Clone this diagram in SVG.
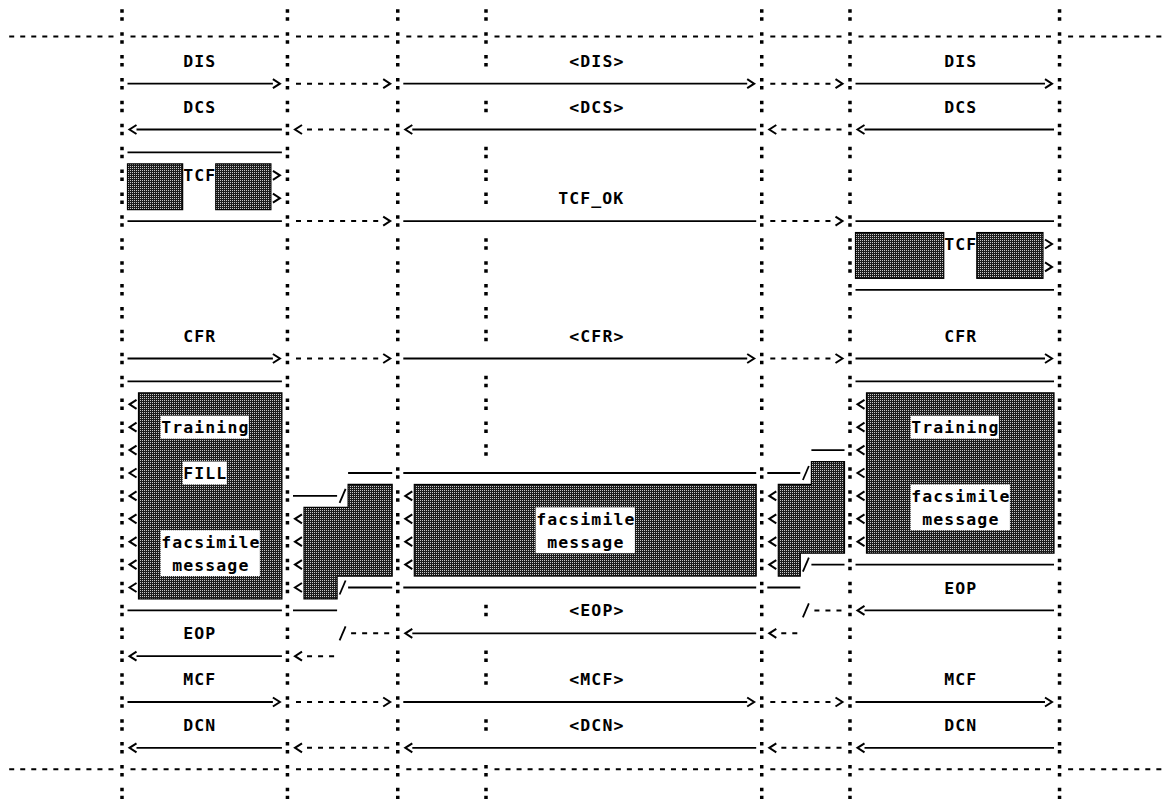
<svg xmlns="http://www.w3.org/2000/svg" xmlns:xlink="http://www.w3.org/1999/xlink" width="1164" height="799" viewBox="0 0 1164 799">
<style>
.ll{stroke:#000;stroke-width:3.5;stroke-dasharray:3.5 4.5 3.5 11.4;fill:none}
.s{stroke:#000;stroke-width:1.8;fill:none}
.d{stroke:#000;stroke-width:2;fill:none;stroke-dasharray:5 6.03}
.ar{marker-end:url(#ah)}
.sl{stroke:#000;stroke-width:1.8;fill:none}
.ch{stroke:#000;stroke-width:2;fill:none}
.box{fill:url(#ht);stroke:#000;stroke-width:1.2}
.wb{fill:#fff;stroke:none}
text{font-family:"DejaVu Sans Mono","Liberation Mono",monospace;font-size:16.5px;font-weight:bold;letter-spacing:1.1px;fill:#000}
</style>
<defs>
<pattern id="ht" width="2" height="2" patternUnits="userSpaceOnUse"><rect width="2" height="2" fill="#1c1c1c"/><rect width="1" height="1" fill="#c8c8c8"/></pattern>
<marker id="ah" viewBox="0 0 7 9" refX="0" refY="4.5" markerWidth="7" markerHeight="9" markerUnits="userSpaceOnUse" orient="auto" overflow="visible"><path d="M0,0 L7,4.5 L0,9" fill="none" stroke="#000" stroke-width="2" stroke-dasharray="none"/></marker>
<path id="cl" class="ch" d="M3.5,-4.5 L-3.5,0 L3.5,4.5"/>
<path id="cr" class="ch" d="M-3.5,-4.5 L3.5,0 L-3.5,4.5"/>
</defs>
<rect width="1164" height="799" fill="#fff"/>

<g id="lifelines">
<line class="ll" x1="122" y1="9.25" x2="122" y2="799.35"/>
<line class="ll" x1="287.45" y1="9.25" x2="287.45" y2="799.35"/>
<line class="ll" x1="397.75" y1="9.25" x2="397.75" y2="799.35"/>
<line class="ll" x1="761.74" y1="9.25" x2="761.74" y2="799.35"/>
<line class="ll" x1="849.98" y1="9.25" x2="849.98" y2="799.35"/>
<line class="ll" x1="1059.55" y1="9.25" x2="1059.55" y2="799.35"/>
<line class="ll" x1="485.99" y1="9.25" x2="485.99" y2="66.55"/>
<line class="ll" x1="485.99" y1="100.85" x2="485.99" y2="112.35"/>
<line class="ll" x1="485.99" y1="146.65" x2="485.99" y2="203.95"/>
<line class="ll" x1="485.99" y1="238.25" x2="485.99" y2="341.35"/>
<line class="ll" x1="485.99" y1="375.65" x2="485.99" y2="455.85"/>
<line class="ll" x1="485.99" y1="604.65" x2="485.99" y2="616.15"/>
<line class="ll" x1="485.99" y1="650.45" x2="485.99" y2="684.85"/>
<line class="ll" x1="485.99" y1="719.15" x2="485.99" y2="730.65"/>
<line class="ll" x1="485.99" y1="764.95" x2="485.99" y2="799.35"/>
</g>

<g id="frame-lines">
<path class="d" d="M9.2 36.4H113.5M130.5 36.4H278.9M296 36.4H389.2M406.3 36.4H477.5M494.5 36.4H753.2M770.3 36.4H841.5M858.5 36.4H1051M1068.1 36.4H1172.4"/>
<path class="d" d="M9.2 769.2H113.5M130.5 769.2H278.9M296 769.2H389.2M406.3 769.2H477.5M494.5 769.2H753.2M770.3 769.2H841.5M858.5 769.2H1051M1068.1 769.2H1172.4"/>
</g>

<g id="tcf-left">
<rect class="box" x="127.5" y="163.85" width="55.15" height="45.8"/>
<rect class="box" x="215.76" y="163.85" width="55.15" height="45.8"/>
<text x="183.2" y="181.3">TCF</text>
<use xlink:href="#cr" x="276.42" y="175.3"/>
<use xlink:href="#cr" x="276.42" y="198.2"/>
</g>

<g id="tcf-right">
<rect class="box" x="855.5" y="232.55" width="88.24" height="45.8"/>
<rect class="box" x="976.8" y="232.55" width="66.18" height="45.8"/>
<text x="944.3" y="250">TCF</text>
<use xlink:href="#cr" x="1048.52" y="244"/>
<use xlink:href="#cr" x="1048.52" y="266.9"/>
</g>

<g id="msg-left">
<rect class="box" x="138.5" y="392.85" width="143.4" height="206.1"/>
<rect class="wb" x="160.6" y="415.75" width="88.24" height="22.9"/>
<rect class="wb" x="182.67" y="461.55" width="44.12" height="22.9"/>
<rect class="wb" x="160.6" y="530.25" width="99.27" height="45.8"/>
<text x="161.2" y="433.2">Training</text>
<text x="183.2" y="479">FILL</text>
<text x="161.2" y="547.7">facsimile</text>
<text x="172.2" y="570.6">message</text>
<use xlink:href="#cl" x="133.03" y="404.3"/>
<use xlink:href="#cl" x="133.03" y="427.2"/>
<use xlink:href="#cl" x="133.03" y="450.1"/>
<use xlink:href="#cl" x="133.03" y="473"/>
<use xlink:href="#cl" x="133.03" y="495.9"/>
<use xlink:href="#cl" x="133.03" y="518.8"/>
<use xlink:href="#cl" x="133.03" y="541.7"/>
<use xlink:href="#cl" x="133.03" y="564.6"/>
<use xlink:href="#cl" x="133.03" y="587.5"/>
</g>

<g id="msg-bc">
<path class="box" d="M348.1,484.45H392.2V576.05H337.1V598.95H304V507.35H348.1Z"/>
<use xlink:href="#cl" x="298.48" y="518.8"/>
<use xlink:href="#cl" x="298.48" y="541.7"/>
<use xlink:href="#cl" x="298.48" y="564.6"/>
<use xlink:href="#cl" x="298.48" y="587.5"/>
</g>

<g id="msg-middle">
<rect class="box" x="414.3" y="484.45" width="341.9" height="91.6"/>
<rect class="wb" x="535.63" y="507.35" width="99.27" height="45.8"/>
<text x="536.2" y="524.8">facsimile</text>
<text x="547.2" y="547.7">message</text>
<use xlink:href="#cl" x="408.78" y="495.9"/>
<use xlink:href="#cl" x="408.78" y="518.8"/>
<use xlink:href="#cl" x="408.78" y="541.7"/>
<use xlink:href="#cl" x="408.78" y="564.6"/>
</g>

<g id="msg-ef">
<path class="box" d="M811.4,461.55H844.5V553.15H800.3V576.05H778.3V484.45H811.4Z"/>
<use xlink:href="#cl" x="772.77" y="495.9"/>
<use xlink:href="#cl" x="772.77" y="518.8"/>
<use xlink:href="#cl" x="772.77" y="541.7"/>
<use xlink:href="#cl" x="772.77" y="564.6"/>
</g>

<g id="msg-right">
<rect class="box" x="866.5" y="392.85" width="187.5" height="160.3"/>
<rect class="wb" x="910.65" y="415.75" width="88.24" height="22.9"/>
<rect class="wb" x="910.65" y="484.45" width="99.27" height="45.8"/>
<text x="911.2" y="433.2">Training</text>
<text x="911.2" y="501.9">facsimile</text>
<text x="922.2" y="524.8">message</text>
<use xlink:href="#cl" x="861.01" y="404.3"/>
<use xlink:href="#cl" x="861.01" y="427.2"/>
<use xlink:href="#cl" x="861.01" y="450.1"/>
<use xlink:href="#cl" x="861.01" y="473"/>
<use xlink:href="#cl" x="861.01" y="495.9"/>
<use xlink:href="#cl" x="861.01" y="518.8"/>
<use xlink:href="#cl" x="861.01" y="541.7"/>
</g>

<g id="labels">
<text x="183.2" y="66.8">DIS</text>
<text x="569.3" y="66.8">&lt;DIS&gt;</text>
<text x="944.3" y="66.8">DIS</text>
<text x="183.2" y="112.6">DCS</text>
<text x="569.3" y="112.6">&lt;DCS&gt;</text>
<text x="944.3" y="112.6">DCS</text>
<text x="558.2" y="204.2">TCF_OK</text>
<text x="183.2" y="341.6">CFR</text>
<text x="569.3" y="341.6">&lt;CFR&gt;</text>
<text x="944.3" y="341.6">CFR</text>
<text x="944.3" y="593.5">EOP</text>
<text x="569.3" y="616.4">&lt;EOP&gt;</text>
<text x="183.2" y="639.3">EOP</text>
<text x="183.2" y="685.1">MCF</text>
<text x="569.3" y="685.1">&lt;MCF&gt;</text>
<text x="944.3" y="685.1">MCF</text>
<text x="183.2" y="730.9">DCN</text>
<text x="569.3" y="730.9">&lt;DCN&gt;</text>
<text x="944.3" y="730.9">DCN</text>
</g>

<g id="connectors">
<!-- DIS -->
<path class="s ar" d="M127.5 83.7H272.9"/>
<path class="d ar" d="M296 83.7H383.2"/>
<path class="s ar" d="M403.3 83.7H747.2"/>
<path class="d ar" d="M770.3 83.7H835.5"/>
<path class="s ar" d="M855.5 83.7H1045"/>
<!-- DCS -->
<path class="s ar" d="M281.9 129.5H136.5"/>
<path class="d ar" d="M389.2 129.5H302"/>
<path class="s ar" d="M756.2 129.5H412.3"/>
<path class="d ar" d="M841.5 129.5H776.3"/>
<path class="s ar" d="M1054 129.5H864.5"/>
<!-- TCF -->
<path class="s" d="M127.5 152.4H281.9"/>
<path class="s" d="M127.5 221.1H281.9"/>
<path class="d ar" d="M296 221.1H383.2"/>
<path class="s" d="M403.3 221.1H756.2"/>
<path class="d ar" d="M770.3 221.1H835.5"/>
<path class="s" d="M855.5 221.1H1054"/>
<path class="s" d="M855.5 289.8H1054"/>
<!-- CFR -->
<path class="s ar" d="M127.5 358.5H272.9"/>
<path class="d ar" d="M296 358.5H383.2"/>
<path class="s ar" d="M403.3 358.5H747.2"/>
<path class="d ar" d="M770.3 358.5H835.5"/>
<path class="s ar" d="M855.5 358.5H1045"/>
<path class="s" d="M127.5 381.4H281.9"/>
<path class="s" d="M855.5 381.4H1054"/>
<!-- message steps -->
<path class="s" d="M811.4 450.1H844.5"/>
<path class="s" d="M348.1 473H392.2M403.3 473H756.2M767.3 473H800.3"/>
<path class="sl" d="M802.86 480L808.86 466"/>
<path class="s" d="M293 495.9H337.1"/>
<path class="sl" d="M339.6 502.9L345.6 488.9"/>
<path class="sl" d="M802.86 571.6L808.86 557.6"/>
<path class="s" d="M811.4 564.6H844.5M855.5 564.6H1054"/>
<path class="sl" d="M339.6 594.5L345.6 580.5"/>
<path class="s" d="M348.1 587.5H392.2M403.3 587.5H756.2M767.3 587.5H800.3"/>
<path class="s" d="M127.5 610.4H281.9M293 610.4H337.1"/>
<!-- EOP -->
<path class="sl" d="M802.86 617.4L808.86 603.4"/>
<path class="d" d="M814.4 610.4H841.5"/>
<path class="s ar" d="M1054 610.4H864.5"/>
<path class="sl" d="M339.6 640.3L345.6 626.3"/>
<path class="d" d="M351.1 633.3H389.2"/>
<path class="s ar" d="M756.2 633.3H412.3"/>
<path class="d ar" d="M797.3 633.3H776.3"/>
<path class="s ar" d="M281.9 656.2H136.5"/>
<path class="d ar" d="M334.1 656.2H302"/>
<!-- MCF -->
<path class="s ar" d="M127.5 702H272.9"/>
<path class="d ar" d="M296 702H383.2"/>
<path class="s ar" d="M403.3 702H747.2"/>
<path class="d ar" d="M770.3 702H835.5"/>
<path class="s ar" d="M855.5 702H1045"/>
<!-- DCN -->
<path class="s ar" d="M281.9 747.8H136.5"/>
<path class="d ar" d="M389.2 747.8H302"/>
<path class="s ar" d="M756.2 747.8H412.3"/>
<path class="d ar" d="M841.5 747.8H776.3"/>
<path class="s ar" d="M1054 747.8H864.5"/>
</g>
</svg>
